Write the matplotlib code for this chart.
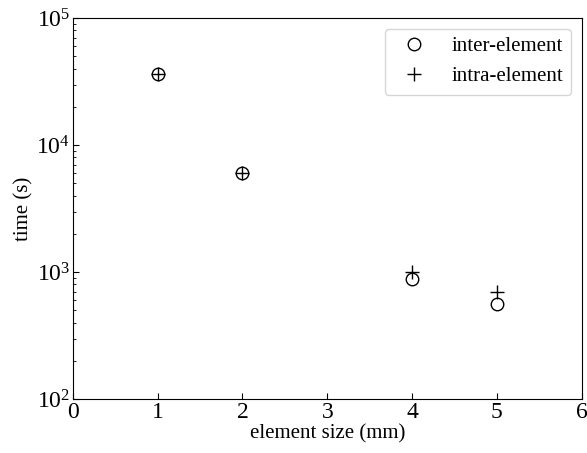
import numpy as np
from matplotlib import pyplot as plt

plt.rcParams['font.family'] = ['Liberation Serif', 'DejaVu Serif']
plt.rcParams['mathtext.fontset'] = 'stix'

# element size (mm) and solve time (s)
size = [1, 2, 4, 5]
t_inter = [36200, 6000, 880, 565]
t_intra = [36200, 6000, 1000, 700]

fig = plt.figure(figsize=(5.87, 4.53), dpi=100)
ax = fig.add_axes([0.124, 0.119, 0.867, 0.841])

ax.plot(size, t_inter, 'o', mfc='none', mec='black', ms=9, mew=1, label='inter-element')
ax.plot(size, t_intra, '+', color='black', ms=10, mew=1, label='intra-element')

ax.set_yscale('log')
ax.set_xlim(0, 6)
ax.set_ylim(1e2, 1e5)
ax.set_xticks(range(7))
ax.tick_params(which='both', direction='in', labelsize=17, pad=2)
ax.tick_params(which='major', length=4)
ax.tick_params(which='minor', length=2)
ax.set_xlabel('element size (mm)', fontsize=15, labelpad=1)
ax.set_ylabel('time (s)', fontsize=15, labelpad=2)

ax.legend(loc='upper right', fontsize=15, handletextpad=0.8, borderaxespad=0.5)

fig.savefig('out.png', dpi=100)
